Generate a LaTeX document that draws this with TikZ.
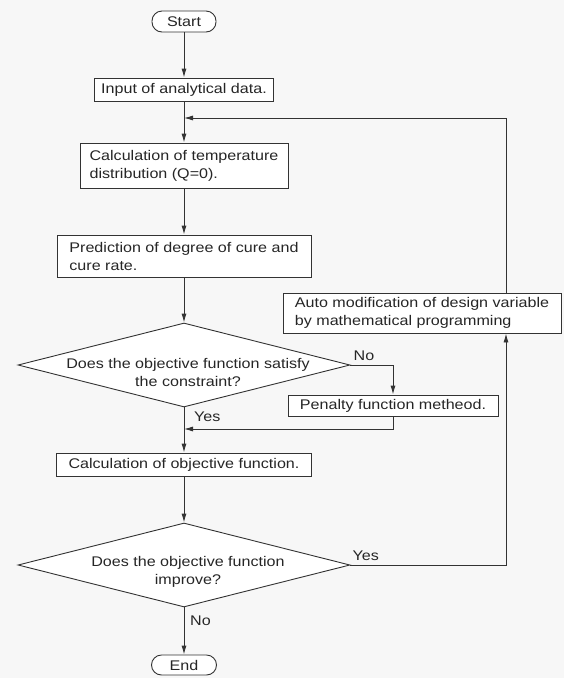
\documentclass[tikz,border=0pt]{standalone}
\usepackage{fontspec}
\setmainfont{Liberation Sans}[FakeStretch=1.15]
\usetikzlibrary{shapes.geometric,arrows.meta}

\begin{document}
\begin{tikzpicture}[x=1pt,y=-1pt,
    >={Latex[length=9pt,width=5pt]},
    every node/.style={font=\fontsize{14}{18}\selectfont, text=black!85},
    box/.style={rectangle, draw=black!80, line width=0.9pt, fill=white, inner sep=2pt, align=left},
    term/.style={box, rounded corners=10pt, align=center},
    decision/.style={diamond, draw=black!80, line width=0.9pt, fill=white, inner sep=0pt,
                     minimum width=332pt, minimum height=84pt},
    dtext/.style={align=center, inner sep=0pt},
    lbl/.style={inner sep=1pt},
    line/.style={draw=black!80, line width=0.9pt}]

    \path[use as bounding box, fill=black!3] (0,0) rectangle (564,678);

    \node[term, minimum width=64pt, minimum height=21pt] (start) at (184,21.5) {Start};
    \node[box, minimum width=179pt, minimum height=23pt] (input) at (184,89.5) {Input of analytical data.};
    \node[box, minimum width=208pt, minimum height=45pt] (calcT) at (184,165.5)
        {Calculation of temperature\\distribution (Q=0).};
    \node[box, minimum width=254pt, minimum height=42pt] (pred) at (184,256)
        {Prediction of degree of cure and\\cure rate.};
    \node[box, minimum width=278pt, minimum height=40pt] (auto) at (422,313)
        {Auto modification of design variable\\by mathematical programming};
    \node[decision] (d1) at (184,365) {};
    \node[dtext] (d1t) at (188,372) {Does the objective function satisfy\\the constraint?};
    \node[box, minimum width=210pt, minimum height=21pt] (pen) at (393,405.5) {Penalty function metheod.};
    \node[box, minimum width=255pt, minimum height=23pt] (calcO) at (184,464.5) {Calculation of objective function.};
    \node[decision] (d2) at (184,565) {};
    \node[dtext] (d2t) at (188,572) {Does the objective function\\improve?};
    \node[term, minimum width=65pt, minimum height=20pt] (end) at (184,665) {End};

    \coordinate (j1) at (184,118);
    \coordinate (r1) at (506,118);
    \coordinate (j2) at (184,429);

    \draw[line,->] (start) -- (input);
    \draw[line,->] (input) -- (calcT);
    \draw[line,->] (auto.north -| r1) -- (r1) -- (j1);
    \draw[line,->] (calcT) -- (pred);
    \draw[line,->] (pred) -- (d1);
    \draw[line,->] (d1.east) -- (d1.east -| pen) -- (pen);
    \draw[line,->] (pen) -- (pen.south |- j2) -- (j2);
    \draw[line,->] (d1) -- (calcO);
    \draw[line,->] (calcO) -- (d2);
    \draw[line,->] (d2) -- (end);
    \draw[line,->] (d2.east) -- (d2.east -| r1) -- (auto.south -| r1);

    \node[lbl, anchor=south west] (no1) at ([shift={(2,-3)}]d1.east) {No};
    \node[lbl, anchor=west] (yes1) at ([shift={(9,9)}]d1.south) {Yes};
    \node[lbl, anchor=south west] (yes2) at ([shift={(1,-3)}]d2.east) {Yes};
    \node[lbl, anchor=west] (no2) at ([shift={(5,13)}]d2.south) {No};
\end{tikzpicture}
\end{document}
